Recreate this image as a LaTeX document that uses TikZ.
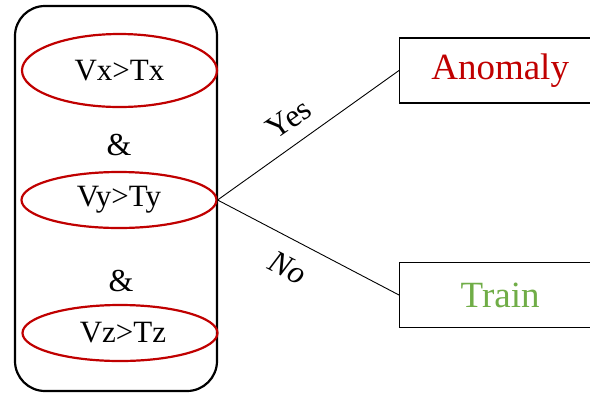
\documentclass[tikz,border=0pt]{standalone}
\usepackage{fontspec}
\setmainfont{Liberation Serif}
\usetikzlibrary{shapes.geometric}
\definecolor{darkred}{HTML}{C00000}
\definecolor{leafgreen}{HTML}{70AD47}
\begin{document}
\begin{tikzpicture}[x=1pt,y=-1pt,
  cond/.style={draw=darkred, line width=2.2pt, ellipse, inner sep=0pt,
    minimum width=195pt, font=\fontsize{31}{31}\selectfont},
  group/.style={draw=black, line width=2.2pt, rounded corners=30pt},
  outcome/.style={draw=black, line width=1.3pt, rectangle, inner sep=0pt,
    minimum width=201pt, minimum height=65pt, anchor=west,
    font=\fontsize{37}{37}\selectfont},
  amp/.style={font=\fontsize{32}{32}\selectfont},
  branch/.style={draw=black, line width=0.9pt},
  lbl/.style={font=\fontsize{32}{32}\selectfont}
]
\useasboundingbox (0,0) rectangle (590,392);
% frame around the three conditions
\draw[group] (15,6) rectangle (217,391);
% conditions
\node[cond, minimum height=73pt] (cx) at (119.5,70.5) {\raisebox{-2pt}{Vx>Tx}};
\node[amp] (a1) at (119,145) {\&};
\node[cond, minimum height=56pt] (cy) at (119,200) {\raisebox{-3pt}{Vy>Ty}};
\node[amp] (a2) at (121,281) {\&};
\node[cond, minimum height=56pt] (cz) at (120,333) {\hspace{6pt}Vz>Tz};
% outcomes
\node[outcome, text=darkred] (anom) at (399,70.5) {Anomaly};
\node[outcome, text=leafgreen] (train) at (399,295) {Train};
% branches
\draw[branch] (cy.east) -- (anom.west);
\draw[branch] (cy.east) -- (train.west);
\node[lbl, rotate=35] (yes) at (289,119) {Yes};
\node[lbl, rotate=-27, font=\fontsize{32}{32}\selectfont\itshape] (no) at (288,268) {No};
\end{tikzpicture}
\end{document}
